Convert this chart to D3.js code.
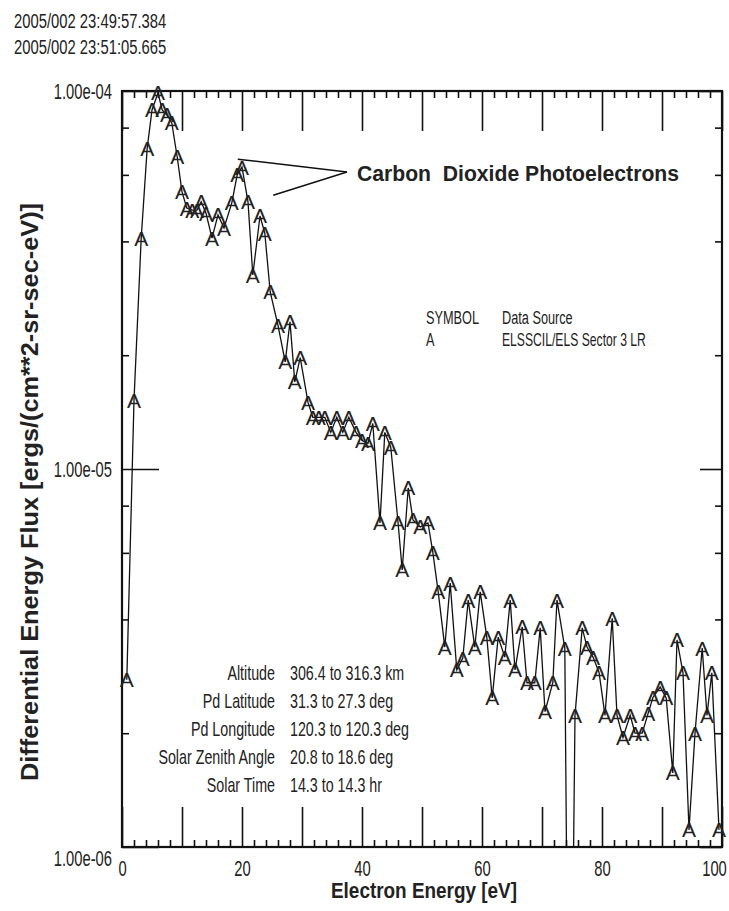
<!DOCTYPE html>
<html>
<head>
<meta charset="utf-8">
<script src="https://cdn.jsdelivr.net/npm/d3@7/dist/d3.min.js"></script>
<style>
  html, body { margin: 0; padding: 0; background: #fff; }
  svg { display: block; }
  text { font-family: "Liberation Sans", Arial, Helvetica, sans-serif; fill: #222; }
</style>
</head>
<body>
<svg id="chart" width="729" height="911"></svg>
<script>
// ---------------- data ----------------
const energy = [0.8, 2.0, 3.2, 4.2, 5.0, 6.0, 6.7, 7.5, 8.3, 9.2,
  10.0, 10.8, 11.7, 12.5, 13.2, 14.0, 15.0, 16.0, 17.0, 18.3,
  19.2, 20.0, 21.0, 21.8, 23.0, 23.8, 24.7, 26.0, 27.2, 28.0,
  28.8, 29.7, 31.0, 31.8, 32.8, 33.8, 34.8, 35.8, 36.8, 37.8,
  39.0, 40.0, 41.0, 41.8, 43.0, 43.8, 44.8, 46.0, 46.7, 47.7,
  48.5, 49.7, 51.0, 51.8, 52.7, 53.8, 54.7, 55.8, 56.8, 57.7,
  58.8, 59.7, 60.8, 61.7, 62.7, 63.8, 64.7, 65.5, 66.7, 67.5,
  68.8, 69.7, 70.5, 71.8, 72.5, 73.8, 74.6, 75.5, 76.7, 77.5,
  78.5, 79.5, 80.5, 81.7, 82.5, 83.5, 84.7, 85.5, 86.7, 87.7,
  88.5, 89.7, 90.7, 91.8, 92.5, 93.5, 94.5, 95.5, 96.7, 97.5,
  98.3, 99.5];
const flux = [2.77e-6, 1.52e-5, 4.08e-5, 7.06e-5, 8.91e-5, 9.88e-5, 8.91e-5, 8.64e-5, 8.23e-5, 6.69e-5,
  5.41e-5, 4.90e-5, 4.84e-5, 4.84e-5, 5.09e-5, 4.75e-5, 4.08e-5, 4.70e-5, 4.34e-5, 5.06e-5,
  6.00e-5, 6.29e-5, 5.09e-5, 3.26e-5, 4.67e-5, 4.21e-5, 2.94e-5, 2.40e-5, 1.92e-5, 2.45e-5,
  1.70e-5, 1.97e-5, 1.50e-5, 1.37e-5, 1.37e-5, 1.37e-5, 1.25e-5, 1.37e-5, 1.25e-5, 1.37e-5,
  1.25e-5, 1.19e-5, 1.17e-5, 1.32e-5, 7.20e-6, 1.25e-5, 1.14e-5, 7.24e-6, 5.41e-6, 8.91e-6,
  7.33e-6, 7.03e-6, 7.20e-6, 6.03e-6, 4.73e-6, 3.38e-6, 4.99e-6, 2.94e-6, 3.16e-6, 4.50e-6,
  3.38e-6, 4.73e-6, 3.59e-6, 2.48e-6, 3.59e-6, 3.18e-6, 4.50e-6, 2.94e-6, 3.82e-6, 2.72e-6,
  2.72e-6, 3.80e-6, 2.28e-6, 2.72e-6, 4.50e-6, 3.36e-6, 1.0e-7, 2.23e-6, 3.80e-6, 3.38e-6,
  3.18e-6, 2.90e-6, 2.23e-6, 4.03e-6, 2.23e-6, 1.95e-6, 2.23e-6, 2.00e-6, 2.00e-6, 2.26e-6,
  2.49e-6, 2.65e-6, 2.48e-6, 1.57e-6, 3.53e-6, 2.89e-6, 1.11e-6, 2.00e-6, 3.36e-6, 2.23e-6,
  2.89e-6, 1.11e-6];
const symbolChar = "A";

const xMajorTicks = [0, 10, 20, 30, 40, 50, 60, 70, 80, 90, 100];
const xLabelTicks = [0, 20, 40, 60, 80, 100];
const yMajorTicks = [1e-6, 1e-5, 1e-4];
const yTickLabels = ["1.00e-06", "1.00e-05", "1.00e-04"];
const yMinorTicks = [2e-6, 4e-6, 6e-6, 8e-6, 2e-5, 4e-5, 6e-5, 8e-5];

const headerLines = ["2005/002 23:49:57.384", "2005/002 23:51:05.665"];
const infoLabels = ["Altitude", "Pd Latitude", "Pd Longitude", "Solar Zenith Angle", "Solar Time"];
const infoValues = ["306.4 to 316.3 km", "31.3 to 27.3 deg", "120.3 to 120.3 deg", "20.8 to 18.6 deg", "14.3 to 14.3 hr"];
const legendHeader = ["SYMBOL", "Data Source"];
const legendRow = ["A", "ELSSCIL/ELS Sector 3 LR"];
const annotation = "Carbon  Dioxide Photoelectrons";
const annotationTargets = [[19.3, 6.6e-5], [25.2, 5.3e-5]];
const xTitle = "Electron Energy [eV]";
const yTitle = "Differential Energy Flux [ergs/(cm**2-sr-sec-eV)]";

// ---------------- layout ----------------
const svg = d3.select("#chart");
svg.append("rect").attr("width", 729).attr("height", 911).attr("fill", "#fff");

const L = 122, R = 722, T = 91, B = 847;
const x = d3.scaleLinear().domain([0, 100]).range([L, R]);
const y = d3.scaleLog().domain([1e-6, 1e-4]).range([B, T]);
const CS = 0.67; // horizontal condensing of the narrow font

function ctext(sel, px, py, str, size, anchor, scale) {
  return sel.append("text")
    .attr("transform", `translate(${px},${py}) scale(${scale || CS},1)`)
    .attr("text-anchor", anchor || "start")
    .attr("font-size", size)
    .text(str);
}

// header
headerLines.forEach((s, i) => ctext(svg, 14, 28 + i * 26, s, 19.5, "start", 0.76));

// clip for the data line
svg.append("clipPath").attr("id", "plotclip")
  .append("rect").attr("x", L).attr("y", T - 20).attr("width", R - L).attr("height", B - T + 20);

// ticks
function styleAxis(g) {
  g.select(".domain").remove();
  g.selectAll(".tick line").attr("stroke", "#111").attr("stroke-width", 1.6);
}
svg.append("g").attr("transform", `translate(0,${B})`)
  .call(d3.axisBottom(x).tickValues(xMajorTicks).tickSize(-40)
    .tickFormat(d => xLabelTicks.includes(d) ? String(d) : "").tickPadding(13))
  .call(styleAxis)
  .call(g => g.selectAll(".tick text")
    .attr("font-size", 22).attr("fill", "#222").attr("font-family", "Liberation Sans, Arial, sans-serif")
    .attr("x", d => d === 100 ? -8 / CS : 0)
    .attr("transform", `scale(${CS},1)`));
svg.append("g").attr("transform", `translate(0,${B})`)
  .call(d3.axisBottom(x).tickValues(d3.range(0, 101, 2).filter(v => v % 10 !== 0)).tickSize(-7).tickFormat(""))
  .call(styleAxis);
svg.append("g").attr("transform", `translate(0,${T})`)
  .call(d3.axisTop(x).tickValues(xMajorTicks).tickSize(-40).tickFormat(""))
  .call(styleAxis);
svg.append("g").attr("transform", `translate(0,${T})`)
  .call(d3.axisTop(x).tickValues(d3.range(0, 101, 2).filter(v => v % 10 !== 0)).tickSize(-7).tickFormat(""))
  .call(styleAxis);

svg.append("g").attr("transform", `translate(${L},0)`)
  .call(d3.axisLeft(y).tickValues(yMajorTicks).tickSize(-37)
    .tickFormat((d, i) => yTickLabels[i]).tickPadding(10))
  .call(styleAxis)
  .call(g => g.selectAll(".tick text")
    .attr("font-size", 22).attr("fill", "#222").attr("font-family", "Liberation Sans, Arial, sans-serif")
    .attr("x", -10 / CS)
    .attr("dy", (d, i) => i === 0 ? "0.82em" : "0.34em")
    .attr("transform", `scale(${CS},1)`));
svg.append("g").attr("transform", `translate(${L},0)`)
  .call(d3.axisLeft(y).tickValues(yMinorTicks).tickSize(-7).tickFormat(""))
  .call(styleAxis);
svg.append("g").attr("transform", `translate(${R},0)`)
  .call(d3.axisRight(y).tickValues(yMajorTicks).tickSize(-22).tickFormat(""))
  .call(styleAxis);
svg.append("g").attr("transform", `translate(${R},0)`)
  .call(d3.axisRight(y).tickValues(yMinorTicks).tickSize(-7).tickFormat(""))
  .call(styleAxis);

// frame
svg.append("rect").attr("x", L).attr("y", T).attr("width", R - L).attr("height", B - T)
  .attr("fill", "none").attr("stroke", "#111").attr("stroke-width", 2.2);

// data line
const pts = energy.map((e, i) => [e, flux[i]]);
const line = d3.line().x(d => x(d[0])).y(d => y(Math.max(d[1], 1e-7)));
svg.append("path").datum(pts).attr("clip-path", "url(#plotclip)")
  .attr("d", line).attr("fill", "none").attr("stroke", "#111").attr("stroke-width", 1.3);

// symbols
svg.append("g").selectAll("text").data(pts.filter(d => d[1] >= 1e-6)).join("text")
  .attr("x", d => x(d[0])).attr("y", d => y(d[1]) + 7.5)
  .attr("text-anchor", "middle").attr("font-size", 21)
  .attr("fill", "#111")
  .text(symbolChar);

// annotation
const apex = [347, 172];
annotationTargets.forEach(t => {
  svg.append("line").attr("x1", apex[0]).attr("y1", apex[1])
    .attr("x2", x(t[0])).attr("y2", y(t[1]))
    .attr("stroke", "#111").attr("stroke-width", 1.5);
});
svg.append("text").attr("x", 357).attr("y", 181).attr("font-size", 22).attr("font-weight", "bold")
  .attr("textLength", 322).attr("lengthAdjust", "spacingAndGlyphs")
  .attr("xml:space", "preserve").style("white-space", "pre")
  .text(annotation);

// legend
ctext(svg, 426, 324, legendHeader[0], 19);
ctext(svg, 502, 324, legendHeader[1], 19);
ctext(svg, 426, 346, legendRow[0], 19);
ctext(svg, 502, 346, legendRow[1], 19, "start", 0.64);

// info block
infoLabels.forEach((s, i) => {
  ctext(svg, 275, 680 + i * 28, s, 21, "end", 0.68);
  ctext(svg, 290, 680 + i * 28, infoValues[i], 21, "start", 0.68);
});

// axis titles
svg.append("text").attr("x", 424).attr("y", 898).attr("text-anchor", "middle")
  .attr("font-size", 22).attr("font-weight", "bold")
  .attr("textLength", 186).attr("lengthAdjust", "spacingAndGlyphs").text(xTitle);
svg.append("text").attr("transform", `translate(38,492) rotate(-90)`)
  .attr("text-anchor", "middle").attr("font-size", 23).attr("font-weight", "bold")
  .attr("textLength", 578).attr("lengthAdjust", "spacingAndGlyphs").text(yTitle);
</script>
</body>
</html>
